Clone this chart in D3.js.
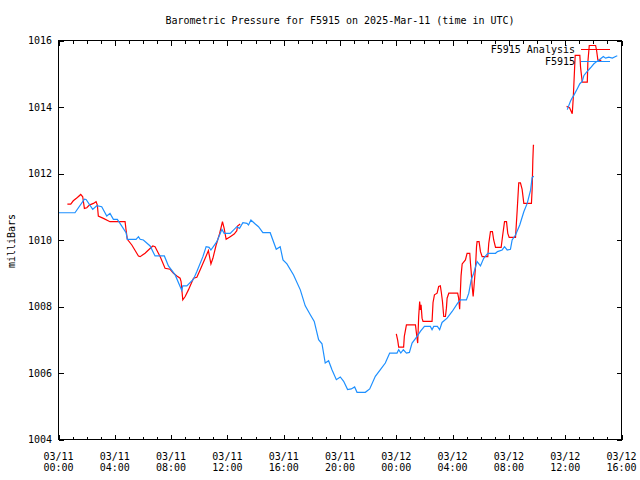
<!DOCTYPE html>
<html><head><meta charset="utf-8">
<script src="https://cdn.jsdelivr.net/npm/d3@7"></script>
<style>
body{margin:0;background:#fff;}
text{font-family:"DejaVu Sans Mono","Liberation Mono",monospace;font-size:10px;fill:#000;}
</style></head><body>
<svg id="c" width="640" height="480"></svg>
<script>
// hours since 2025-03-11 00:00 UTC; null separates gaps
const obsHours = [0.0,1.17,1.84,1.96,2.43,2.72,3.07,3.43,3.66,3.90,4.18,4.37,4.80,4.89,5.51,5.68,5.80,6.03,6.51,6.86,7.52,7.81,8.29,8.64,8.76,8.83,9.12,9.59,9.83,10.26,10.49,10.70,10.83,11.25,11.61,11.77,12.20,12.67,12.86,13.10,13.39,13.50,13.67,13.98,14.21,14.52,15.04,15.47,15.75,15.95,16.23,16.70,17.18,17.53,17.89,18.17,18.48,18.72,18.95,19.19,19.43,19.74,20.02,20.26,20.54,20.80,21.04,21.21,21.80,22.11,22.51,22.87,23.22,23.53,24.05,24.17,24.32,24.50,24.72,24.93,25.12,25.48,25.71,26.00,26.42,26.54,26.66,26.92,27.08,27.25,27.61,27.97,28.36,28.56,28.98,29.15,29.32,29.50,29.74,29.98,30.21,30.50,31.05,31.19,31.52,31.69,31.88,32.11,32.23,32.47,32.77,33.06,33.30,33.54,33.65,33.77,
  null,
  36.15,36.26,36.38,36.50,36.61,36.86,37.04,37.21,37.33,37.52,37.80,38.04,38.28,38.51,38.71,38.87,39.10,39.35,39.58,39.70];
const obsPress = [1010.82,1010.82,1011.23,1011.22,1010.92,1011.03,1011.0,1010.72,1010.8,1010.62,1010.62,1010.5,1010.22,1010.02,1010.02,1010.1,1010.02,1010.0,1009.82,1009.52,1009.52,1009.22,1008.95,1008.6,1008.48,1008.62,1008.62,1008.82,1009.05,1009.5,1009.8,1009.78,1009.7,1009.95,1010.32,1010.2,1010.2,1010.4,1010.35,1010.52,1010.5,1010.45,1010.6,1010.48,1010.4,1010.22,1010.22,1009.72,1009.8,1009.4,1009.28,1008.95,1008.5,1008.02,1007.75,1007.55,1007.0,1006.88,1006.3,1006.37,1006.1,1005.8,1005.88,1005.75,1005.5,1005.52,1005.58,1005.42,1005.42,1005.52,1005.9,1006.1,1006.3,1006.6,1006.6,1006.7,1006.6,1006.7,1006.6,1006.62,1006.9,1007.1,1007.25,1007.4,1007.4,1007.3,1007.4,1007.4,1007.3,1007.52,1007.65,1007.85,1008.1,1008.2,1008.2,1008.4,1008.8,1009.0,1009.35,1009.22,1009.45,1009.6,1009.6,1009.65,1009.7,1009.8,1009.7,1009.72,1010.0,1010.15,1010.45,1010.85,1011.1,1011.5,1011.88,1011.92,
  null,
  1013.92,1014.05,1014.18,1014.28,1014.35,1014.55,1014.7,1014.77,1014.95,1015.05,1015.18,1015.3,1015.38,1015.45,1015.52,1015.47,1015.5,1015.47,1015.52,1015.54];

const anaHours = [0.63,0.87,1.05,1.34,1.58,1.72,1.84,2.01,2.19,2.48,2.67,2.76,2.83,3.19,3.66,4.73,4.80,4.89,5.21,5.68,5.80,6.15,6.39,6.70,6.86,7.22,7.57,7.93,8.17,8.41,8.64,8.71,8.83,9.00,9.23,9.59,9.83,10.06,10.42,10.65,10.83,10.97,11.20,11.44,11.65,11.77,11.91,12.20,12.48,12.67,12.72,12.91,
  null,
  24.00,24.10,24.17,24.52,24.57,24.72,25.36,25.43,25.52,25.59,25.66,25.71,25.76,25.83,25.90,26.54,26.61,26.71,26.90,27.01,27.13,27.20,27.28,27.37,27.49,27.56,27.61,27.73,28.36,28.43,28.50,28.60,28.68,28.91,29.03,29.22,29.27,29.32,29.39,29.46,29.52,29.63,29.70,29.74,29.88,29.98,30.10,30.50,30.57,30.69,30.83,30.92,31.05,31.45,31.56,31.69,31.83,31.92,32.02,32.47,32.59,32.70,32.82,32.94,33.06,33.60,33.65,33.70,33.74,33.79,
  null,
  36.10,36.31,36.50,36.57,36.66,36.71,37.04,37.09,37.21,37.57,37.61,37.71,38.16,38.23,38.32,38.46,38.56];
const anaPress = [1011.08,1011.08,1011.18,1011.28,1011.37,1011.3,1010.95,1010.97,1011.05,1011.1,1011.15,1011.05,1010.72,1010.65,1010.55,1010.55,1010.3,1010.02,1009.85,1009.52,1009.5,1009.6,1009.7,1009.82,1009.8,1009.5,1009.15,1009.12,1009.0,1008.92,1008.85,1008.75,1008.2,1008.3,1008.5,1008.85,1008.88,1009.1,1009.45,1009.68,1009.28,1009.45,1009.85,1010.18,1010.55,1010.35,1010.02,1010.1,1010.18,1010.28,1010.42,1010.48,
  null,
  1007.18,1006.98,1006.78,1006.78,1007.1,1007.45,1007.45,1007.2,1006.9,1007.7,1008.15,1007.9,1008.05,1007.65,1007.55,1007.55,1008.12,1008.35,1008.4,1008.6,1008.62,1008.42,1008.15,1007.7,1007.7,1007.95,1008.25,1008.4,1008.4,1008.25,1007.92,1008.92,1009.28,1009.4,1009.6,1009.6,1009.3,1009.05,1008.6,1008.3,1008.6,1009.2,1009.8,1009.95,1009.95,1009.65,1009.5,1009.5,1009.9,1010.25,1010.25,1010.0,1009.78,1009.78,1010.15,1010.55,1010.55,1010.2,1010.08,1010.08,1010.9,1011.72,1011.72,1011.52,1011.1,1011.1,1011.52,1012.4,1012.85,1012.85,
  null,
  1014.02,1013.98,1013.8,1014.25,1015.1,1015.55,1015.55,1015.2,1014.75,1014.75,1015.35,1015.85,1015.85,1015.7,1015.42,1015.38,1015.42];

const yTicks = [1004,1006,1008,1010,1012,1014,1016];
const titleText = "Barometric Pressure for F5915 on 2025-Mar-11 (time in UTC)";
const yLabel = "milliBars";
const seriesNames = ["F5915 Analysis","F5915"];
const seriesColors = ["#ff0000","#1e90ff"];

const t0 = Date.UTC(2025,2,11,0,0);
const toDate = h => h == null ? null : new Date(t0 + h*3600000);

const svg = d3.select("#c");
const L=58.5, R=621.5, T=40.5, B=439.5;
const x = d3.scaleUtc().domain([toDate(0), toDate(40)]).range([L,R]);
const y = d3.scaleLinear().domain([1004,1016]).range([B,T]);

const majorTicks = d3.utcHour.every(4).range(toDate(0), toDate(40.01));
const minorTicks = d3.utcHour.every(1).range(toDate(0), toDate(40.01));

const g = svg.append("g").attr("shape-rendering","crispEdges");
g.append("g").attr("transform",`translate(0,${B})`)
 .call(d3.axisBottom(x).tickValues(minorTicks).tickSize(-3).tickFormat(""))
 .call(s=>s.select(".domain").remove());
g.append("g").attr("transform",`translate(0,${T})`)
 .call(d3.axisTop(x).tickValues(minorTicks).tickSize(-3).tickFormat(""))
 .call(s=>s.select(".domain").remove());
g.append("g").attr("transform",`translate(0,${B})`)
 .call(d3.axisBottom(x).tickValues(majorTicks).tickSize(-5).tickFormat(""))
 .call(s=>s.select(".domain").remove());
g.append("g").attr("transform",`translate(0,${T})`)
 .call(d3.axisTop(x).tickValues(majorTicks).tickSize(-5).tickFormat(""))
 .call(s=>s.select(".domain").remove());
g.append("g").attr("transform",`translate(${L},0)`)
 .call(d3.axisLeft(y).tickValues(yTicks).tickSize(-5).tickFormat(""))
 .call(s=>s.select(".domain").remove());
g.append("g").attr("transform",`translate(${R},0)`)
 .call(d3.axisRight(y).tickValues(yTicks).tickSize(-5).tickFormat(""))
 .call(s=>s.select(".domain").remove());
g.selectAll(".tick line").attr("stroke","#000");

svg.append("g").selectAll("text").data(yTicks).join("text")
  .attr("x", 52).attr("y", d=>y(d)+3.5).attr("text-anchor","end").text(d=>d);
const fmtD = d3.utcFormat("%m/%d"), fmtT = d3.utcFormat("%H:%M");
const xl = svg.append("g").selectAll("g").data(majorTicks).join("g");
xl.append("text").attr("x",d=>x(d)).attr("y",459.5).attr("text-anchor","middle").text(fmtD);
xl.append("text").attr("x",d=>x(d)).attr("y",470.5).attr("text-anchor","middle").text(fmtT);

svg.append("text").attr("x",340).attr("y",23.5).attr("text-anchor","middle").text(titleText);
svg.append("text").attr("transform","translate(14.5,241) rotate(-90)").attr("text-anchor","middle").text(yLabel);

function series(hours, press){ return hours.map((h,i)=>({t:toDate(h), v:press[i]})); }
const line = d3.line().defined(d=>d.t!=null && d.v!=null).x(d=>x(d.t)).y(d=>y(d.v));
const plot = svg.append("g");
plot.append("path").datum(series(anaHours,anaPress)).attr("d",line)
  .attr("fill","none").attr("stroke",seriesColors[0]).attr("stroke-width",1.2);
plot.append("path").datum(series(obsHours,obsPress)).attr("d",line)
  .attr("fill","none").attr("stroke",seriesColors[1]).attr("stroke-width",1.2);

const legY = [49.5, 61.5];
seriesNames.forEach((n,i)=>{
  svg.append("text").attr("x",575).attr("y",legY[i]+3.5).attr("text-anchor","end").text(n);
  svg.append("line").attr("x1",581).attr("x2",610).attr("y1",legY[i]).attr("y2",legY[i])
    .attr("stroke",seriesColors[i]).attr("stroke-width",1).attr("shape-rendering","crispEdges");
});

svg.append("rect").attr("x",L).attr("y",T).attr("width",R-L).attr("height",B-T)
  .attr("fill","none").attr("stroke","#000").attr("shape-rendering","crispEdges");
</script>
</body></html>
